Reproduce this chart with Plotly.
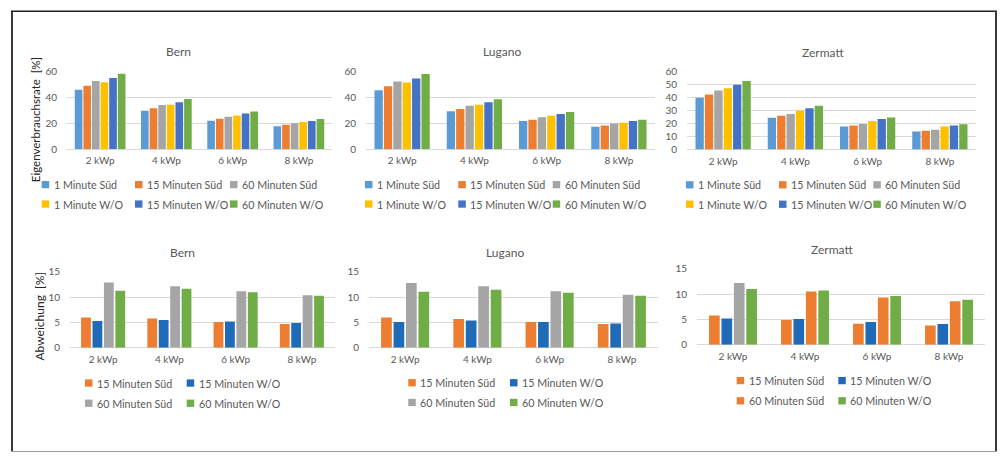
import plotly.graph_objects as go

W, H = 1001, 459

# ---------------------------------------------------------------- data
categories = ["2 kWp", "4 kWp", "6 kWp", "8 kWp"]

rate_series = ["1 Minute Süd", "15 Minuten Süd", "60 Minuten Süd",
               "1 Minute W/O", "15 Minuten W/O", "60 Minuten W/O"]
dev_series = ["15 Minuten Süd", "15 Minuten W/O",
              "60 Minuten Süd", "60 Minuten W/O"]

# Eigenverbrauchsrate [%]
bern_1min_sued = [45.6, 29.6, 21.9, 17.7]
bern_15min_sued = [48.8, 31.4, 23.4, 18.7]
bern_60min_sued = [52.5, 33.9, 24.9, 19.9]
bern_1min_wo = [51.5, 34.1, 25.9, 20.9]
bern_15min_wo = [54.8, 36.1, 27.4, 21.7]
bern_60min_wo = [58.0, 38.6, 28.9, 23.2]

lugano_1min_sued = [45.3, 29.1, 21.7, 17.2]
lugano_15min_sued = [48.3, 30.9, 22.7, 18.2]
lugano_60min_sued = [52.0, 33.4, 24.6, 19.7]
lugano_1min_wo = [51.3, 34.1, 25.6, 20.4]
lugano_15min_wo = [54.3, 36.1, 27.1, 21.7]
lugano_60min_wo = [57.8, 38.3, 28.6, 22.7]

zermatt_1min_sued = [40.0, 24.5, 17.8, 14.0]
zermatt_15min_sued = [42.5, 26.0, 18.5, 14.5]
zermatt_60min_sued = [45.5, 27.5, 19.8, 15.3]
zermatt_1min_wo = [47.3, 30.0, 22.0, 17.8]
zermatt_15min_wo = [50.0, 31.8, 23.5, 18.5]
zermatt_60min_wo = [53.0, 33.8, 24.8, 19.5]

# Abweichung [%]
bern_dev_15_sued = [6.0, 5.8, 5.1, 4.7]
bern_dev_15_wo = [5.3, 5.5, 5.2, 4.9]
bern_dev_60_sued = [12.9, 12.2, 11.2, 10.4]
bern_dev_60_wo = [11.3, 11.7, 11.0, 10.3]

lugano_dev_15_sued = [6.0, 5.7, 5.1, 4.7]
lugano_dev_15_wo = [5.1, 5.4, 5.1, 4.8]
lugano_dev_60_sued = [12.8, 12.2, 11.2, 10.5]
lugano_dev_60_wo = [11.1, 11.5, 10.9, 10.3]

zermatt_dev_15_sued = [5.8, 4.9, 4.15, 3.8]
zermatt_dev_15_wo = [5.2, 5.1, 4.5, 4.1]
zermatt_dev_60_sued = [12.2, 10.5, 9.3, 8.6]
zermatt_dev_60_wo = [11.0, 10.7, 9.6, 8.9]

locations = ["Bern", "Lugano", "Zermatt"]

# ---------------------------------------------------------------- styling
FONT = "Lato"
GREY_TXT = "#595959"
GRID = "#D9D9D9"

rate_colors = ["#5B9BD5", "#ED7D31", "#A5A5A5", "#FFC000", "#4472C4", "#70AD47"]
dev_colors = ["#ED7D31", "#1F6BB8", "#A5A5A5", "#70AD47"]
# in the Zermatt deviation chart the 60 Minuten Süd bars are orange,
# except the first one which keeps the grey
zermatt_dev_60_sued_colors = ["#A5A5A5", "#ED7D31", "#ED7D31", "#ED7D31"]


def px(x):
    return x / W


def py(y):
    return 1 - y / H


# plot areas in pixels: (left, right, top, bottom)
areas = [
    (67, 332, 66.0, 146.3),
    (366, 655, 66.0, 146.3),
    (687, 976, 66.7, 146.7),
    (70, 335, 272.7, 350.7),
    (369, 658, 272.7, 350.7),
    (697, 985, 269.3, 347.7),
]

fig = go.Figure()


def add_group(panel, values, names, colors, group_w, bar_w, color_override=None):
    n = len(values)
    slot = group_w / n
    suffix = "" if panel == 1 else str(panel)
    for i, (vals, name, col) in enumerate(zip(values, names, colors)):
        offset = -group_w / 2 + i * slot + (slot - bar_w) / 2
        mc = col
        if color_override is not None and i in color_override:
            mc = color_override[i]
        fig.add_trace(go.Bar(
            x=categories, y=vals, name=name,
            marker=dict(color=mc, line=dict(width=0)),
            width=bar_w, offset=offset,
            xaxis="x" + suffix, yaxis="y" + suffix,
            showlegend=False, hoverinfo="x+y+name",
        ))


rate_data = [
    [bern_1min_sued, bern_15min_sued, bern_60min_sued, bern_1min_wo, bern_15min_wo, bern_60min_wo],
    [lugano_1min_sued, lugano_15min_sued, lugano_60min_sued, lugano_1min_wo, lugano_15min_wo, lugano_60min_wo],
    [zermatt_1min_sued, zermatt_15min_sued, zermatt_60min_sued, zermatt_1min_wo, zermatt_15min_wo, zermatt_60min_wo],
]
dev_data = [
    [bern_dev_15_sued, bern_dev_15_wo, bern_dev_60_sued, bern_dev_60_wo],
    [lugano_dev_15_sued, lugano_dev_15_wo, lugano_dev_60_sued, lugano_dev_60_wo],
    [zermatt_dev_15_sued, zermatt_dev_15_wo, zermatt_dev_60_sued, zermatt_dev_60_wo],
]

for j in range(3):
    add_group(j + 1, rate_data[j], rate_series, rate_colors, 0.78, 0.115)

for j in range(3):
    override = {2: zermatt_dev_60_sued_colors} if j == 2 else None
    add_group(j + 4, dev_data[j], dev_series, dev_colors, 0.69, 0.148, override)

layout = dict(
    width=W, height=H, autosize=False,
    margin=dict(l=0, r=0, t=0, b=0),
    paper_bgcolor="white", plot_bgcolor="white",
    barmode="group", showlegend=False,
    font=dict(family=FONT, color=GREY_TXT, size=10),
    hovermode="closest",
)

for k, (l, r, t, b) in enumerate(areas, start=1):
    suffix = "" if k == 1 else str(k)
    top_row = k <= 3
    layout["xaxis" + suffix] = dict(
        domain=[px(l), px(r)], anchor="y" + suffix,
        type="category", showgrid=False, zeroline=False, showline=False,
        ticks="", tickfont=dict(family=FONT, size=10, color=GREY_TXT),
        ticklabelstandoff=4, fixedrange=True,
    )
    layout["yaxis" + suffix] = dict(
        domain=[py(b), py(t)], anchor="x" + suffix,
        range=[0, 60] if top_row else [0, 15],
        dtick=(20 if k in (1, 2) else 10) if top_row else 5,
        showgrid=True, gridcolor=GRID, gridwidth=1,
        zeroline=True, zerolinecolor=GRID, zerolinewidth=1,
        showline=False, ticks="",
        tickfont=dict(family=FONT, size=10, color=GREY_TXT),
        ticklabelstandoff=9, fixedrange=True,
    )

shapes = []
annotations = []

# legends below each chart: columns of colour keys with their series names
legend_layout = [
    # (column x positions of the key squares, row centres, names, colours)
    ([41.7, 135.0, 230.0], [182.8, 202.8], rate_series, rate_colors),
    ([365.0, 458.3, 552.7], [182.8, 202.8], rate_series, rate_colors),
    ([686.0, 779.0, 873.3], [183.0, 203.0], rate_series, rate_colors),
    ([85.0, 186.7], [387.0, 407.8], dev_series, dev_colors),
    ([408.3, 510.0], [386.7, 407.0], dev_series, dev_colors),
    ([736.7, 838.3], [384.5, 405.3], dev_series,
     ["#ED7D31", "#1F6BB8", "#ED7D31", "#70AD47"]),
]
SQ = 7.5
for cols, rows, names, colors in legend_layout:
    ncol = len(cols)
    for i, (name, col) in enumerate(zip(names, colors)):
        cx = cols[i % ncol]
        cy = rows[i // ncol]
        shapes.append(dict(
            type="rect", xref="paper", yref="paper",
            x0=px(cx), x1=px(cx + SQ), y0=py(cy + SQ / 2), y1=py(cy - SQ / 2),
            fillcolor=col, line=dict(width=0), layer="above",
        ))
        annotations.append(dict(
            text=name, x=px(cx + SQ + 2.5), y=py(cy), xref="paper", yref="paper",
            xanchor="left", yanchor="middle", showarrow=False,
            font=dict(family=FONT, size=10.7, color=GREY_TXT),
        ))

title_pos = [(178.7, 45.7), (501.7, 45.7), (823, 46.7),
             (182.3, 253), (505, 253), (832, 250)]
for k, (tx, ty) in enumerate(title_pos):
    annotations.append(dict(
        text=locations[k % 3], x=px(tx), y=py(ty), xref="paper", yref="paper",
        xanchor="center", yanchor="middle", showarrow=False,
        font=dict(family=FONT, size=12, color=GREY_TXT),
    ))

annotations.append(dict(
    text="Eigenverbrauchsrate\u00a0\u00a0[%]", x=px(35), y=py(116.5),
    xref="paper", yref="paper", xanchor="center", yanchor="middle",
    textangle=-90, showarrow=False,
    font=dict(family=FONT, size=11.5, color="#262626"),
))
annotations.append(dict(
    text="Abweichung\u00a0\u00a0[%]", x=px(39), y=py(318.5),
    xref="paper", yref="paper", xanchor="center", yanchor="middle",
    textangle=-90, showarrow=False,
    font=dict(family=FONT, size=12, color="#262626"),
))

# outer frame
frame = "#3A3A3A"
shapes += [
    dict(type="line", xref="paper", yref="paper", x0=px(12), x1=px(12),
         y0=py(4), y1=py(457.5), line=dict(color=frame, width=2)),
    dict(type="line", xref="paper", yref="paper", x0=px(11), x1=px(997),
         y0=py(4.5), y1=py(4.5), line=dict(color="#202020", width=1.5)),
    dict(type="line", xref="paper", yref="paper", x0=px(996), x1=px(996),
         y0=py(4), y1=py(457.5), line=dict(color=frame, width=2)),
    dict(type="line", xref="paper", yref="paper", x0=px(11), x1=px(997),
         y0=py(457.5), y1=py(457.5), line=dict(color="#9A9A9A", width=1)),
]

layout["shapes"] = shapes
layout["annotations"] = annotations

fig.update_layout(**layout)
fig.write_html("out.html", config={"displayModeBar": False})
